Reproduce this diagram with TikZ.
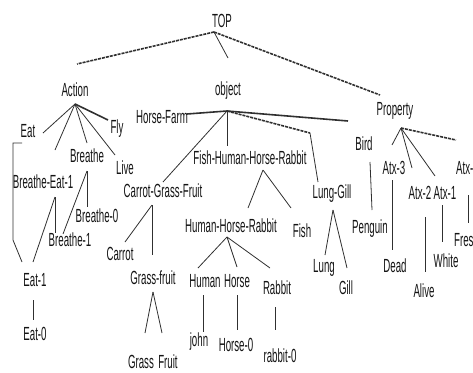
\documentclass[tikz,border=0pt]{standalone}
\usepackage{fontspec}
\setmainfont{Liberation Sans}[FakeStretch=0.51]
\definecolor{txt}{HTML}{141414}
\definecolor{lnc}{HTML}{303030}
\begin{document}
\begin{tikzpicture}[x=1pt,y=-1pt,
  lbl/.style={inner sep=0pt, anchor=base, text=txt, font=\fontsize{19}{19}\selectfont},
  ln/.style={draw=lnc, line width=0.8pt},
  thk/.style={draw=lnc, line width=1.6pt},
  dsh/.style={draw=lnc, line width=1.6pt, dash pattern=on 3pt off 1pt}]
\useasboundingbox (0,0) rectangle (473,372);
\clip (0,0) rectangle (473,372);
% labels
\node[lbl] (TOP) at (222,27) {TOP};
\node[lbl] (Action) at (75,96) {Action};
\node[lbl] (object) at (228,95) {object};
\node[lbl] (Property) at (395,115) {Property};
\node[lbl] (Eat) at (28,137) {Eat};
\node[lbl] (Fly) at (117,133) {Fly};
\node[lbl] (Breathe) at (87,162) {Breathe};
\node[lbl] (Live) at (125,174) {Live};
\node[lbl] (BE1) at (43,188) {Breathe-Eat-1};
\node[lbl] (B0) at (97,222) {Breathe-0};
\node[lbl] (B1) at (70,246) {Breathe-1};
\node[lbl] (Eat1) at (35,286) {Eat-1};
\node[lbl] (Eat0) at (35,340) {Eat-0};
\node[lbl] (HF) at (162,123) {Horse-Farm};
\node[lbl] (FHHR) at (250,164) {Fish-Human-Horse-Rabbit};
\node[lbl] (CGF) at (163,197) {Carrot-Grass-Fruit};
\node[lbl] (HHR) at (231,232) {Human-Horse-Rabbit};
\node[lbl] (Fish) at (302,237) {Fish};
\node[lbl] (LG) at (332,198) {Lung-Gill};
\node[lbl] (Bird) at (364,150) {Bird};
\node[lbl] (Penguin) at (370,233) {Penguin};
\node[lbl] (Atx3) at (394,174) {Atx-3};
\node[lbl] (Atx2) at (420,199) {Atx-2};
\node[lbl] (Atx1) at (445,199) {Atx-1};
\node[lbl, anchor=base west] (Atx0) at (456,174) {Atx-};
\node[lbl, anchor=base west] (Fres) at (454,246) {Fres};
\node[lbl] (Carrot) at (120,260) {Carrot};
\node[lbl] (GF) at (153,284) {Grass-fruit};
\node[lbl] (Grass) at (141,368) {Grass};
\node[lbl] (Fruit) at (168,368) {Fruit};
\node[lbl] (Human) at (205,287) {Human};
\node[lbl] (Horse) at (237,287) {Horse};
\node[lbl] (Rabbit) at (277,294) {Rabbit};
\node[lbl] (john) at (199,346) {john};
\node[lbl] (Horse0) at (236,351) {Horse-0};
\node[lbl] (rabbit0) at (280,362) {rabbit-0};
\node[lbl] (Lung) at (324,272) {Lung};
\node[lbl] (Gill) at (346,294) {Gill};
\node[lbl] (Dead) at (395,272) {Dead};
\node[lbl] (Alive) at (424,297) {Alive};
\node[lbl] (White) at (446,267) {White};
% connector points
\coordinate (TOP-a) at (214,32);
\coordinate (Action-t) at (77,64);
\coordinate (object-t) at (228,58);
\coordinate (Property-t) at (380,95);
\coordinate (Action-a) at (75,104);
\coordinate (Eat-t) at (43,133);
\coordinate (BE1-t) at (55,150);
\coordinate (Breathe-t) at (87,143);
\coordinate (Live-t) at (115,155);
\coordinate (Fly-t) at (108,120);
\coordinate (Eat-r) at (22,143);
\coordinate (Eat-c1) at (13,143);
\coordinate (Eat-c2) at (13,240);
\coordinate (Eat1-l) at (22,262);
\coordinate (BE1-a) at (55,197);
\coordinate (Eat1-r) at (33,262);
\coordinate (B1-t1) at (55,233);
\coordinate (Breathe-a) at (87,171);
\coordinate (B0-t) at (87,207);
\coordinate (B1-t2) at (63,234);
\coordinate (Eat1-a) at (33,300);
\coordinate (Eat0-t) at (33,320);
\coordinate (object-a) at (227,111);
\coordinate (HF-r) at (187,114);
\coordinate (Bird-l) at (348,121);
\coordinate (LG-k) at (310,133);
\coordinate (LG-t) at (318,182);
\coordinate (FHHR-t) at (227,146);
\coordinate (CGF-t) at (163,182);
\coordinate (FHHR-a) at (263,170);
\coordinate (HHR-t) at (248,208);
\coordinate (Fish-t) at (291,208);
\coordinate (HHR-a) at (227,237);
\coordinate (Human-t) at (198,268);
\coordinate (Horse-t) at (237,267);
\coordinate (Rabbit-t) at (270,268);
\coordinate (CGF-a) at (152,205);
\coordinate (Carrot-t) at (125,242);
\coordinate (GF-t) at (152,255);
\coordinate (GF-a) at (153,292);
\coordinate (Grass-t) at (145,333);
\coordinate (Fruit-t) at (162,333);
\coordinate (Human-a) at (203,295);
\coordinate (john-t) at (203,332);
\coordinate (Horse-a) at (237,295);
\coordinate (Horse0-t) at (237,330);
\coordinate (Rabbit-a) at (275,307);
\coordinate (rabbit0-t) at (275,330);
\coordinate (LG-a) at (333,210);
\coordinate (Lung-t) at (325,255);
\coordinate (Gill-t) at (347,268);
\coordinate (Bird-a) at (370,162);
\coordinate (Penguin-t) at (372,210);
\coordinate (Property-a) at (401,128);
\coordinate (Atx3-t) at (392,145);
\coordinate (Atx2-t) at (412,168);
\coordinate (Atx1-t) at (435,176);
\coordinate (Atx0-t) at (456,140);
\coordinate (Atx3-a) at (392,180);
\coordinate (Dead-t) at (392,250);
\coordinate (Atx2-a) at (425,217);
\coordinate (Alive-t) at (425,272);
\coordinate (Atx1-a) at (442,205);
\coordinate (White-t) at (442,242);
\coordinate (Atx0-a) at (468,195);
\coordinate (Fres-t) at (468,223);
% connectors
\draw[dsh] (TOP-a) -- (Action-t);
\draw[ln] (TOP-a) -- (object-t);
\draw[dsh] (TOP-a) -- (Property-t);
\draw[ln] (Action-a) -- (Eat-t);
\draw[ln] (Action-a) -- (BE1-t);
\draw[ln] (Action-a) -- (Breathe-t);
\draw[ln] (Action-a) -- (Live-t);
\draw[thk] (Action-a) -- (Fly-t);
\draw[ln] (Eat-r) -- (Eat-c1) -- (Eat-c2) -- (Eat1-l);
\draw[ln] (BE1-a) -- (Eat1-r);
\draw[ln] (BE1-a) -- (B1-t1);
\draw[ln] (Breathe-a) -- (B0-t);
\draw[ln] (Breathe-a) -- (B1-t2);
\draw[ln] (Eat1-a) -- (Eat0-t);
\draw[thk] (object-a) -- (HF-r);
\draw[thk] (object-a) -- (Bird-l);
\draw[dsh] (object-a) -- (LG-k);
\draw[ln] (LG-k) -- (LG-t);
\draw[ln] (object-a) -- (FHHR-t);
\draw[ln] (object-a) -- (CGF-t);
\draw[ln] (FHHR-a) -- (HHR-t);
\draw[ln] (FHHR-a) -- (Fish-t);
\draw[ln] (HHR-a) -- (Human-t);
\draw[ln] (HHR-a) -- (Horse-t);
\draw[ln] (HHR-a) -- (Rabbit-t);
\draw[ln] (CGF-a) -- (Carrot-t);
\draw[ln] (CGF-a) -- (GF-t);
\draw[ln] (GF-a) -- (Grass-t);
\draw[ln] (GF-a) -- (Fruit-t);
\draw[ln] (Human-a) -- (john-t);
\draw[ln] (Horse-a) -- (Horse0-t);
\draw[ln] (Rabbit-a) -- (rabbit0-t);
\draw[ln] (LG-a) -- (Lung-t);
\draw[ln] (LG-a) -- (Gill-t);
\draw[ln] (Bird-a) -- (Penguin-t);
\draw[ln] (Property-a) -- (Atx3-t);
\draw[ln] (Property-a) -- (Atx2-t);
\draw[ln] (Property-a) -- (Atx1-t);
\draw[dsh] (Property-a) -- (Atx0-t);
\draw[ln] (Atx3-a) -- (Dead-t);
\draw[ln] (Atx2-a) -- (Alive-t);
\draw[ln] (Atx1-a) -- (White-t);
\draw[ln] (Atx0-a) -- (Fres-t);
\end{tikzpicture}
\end{document}
